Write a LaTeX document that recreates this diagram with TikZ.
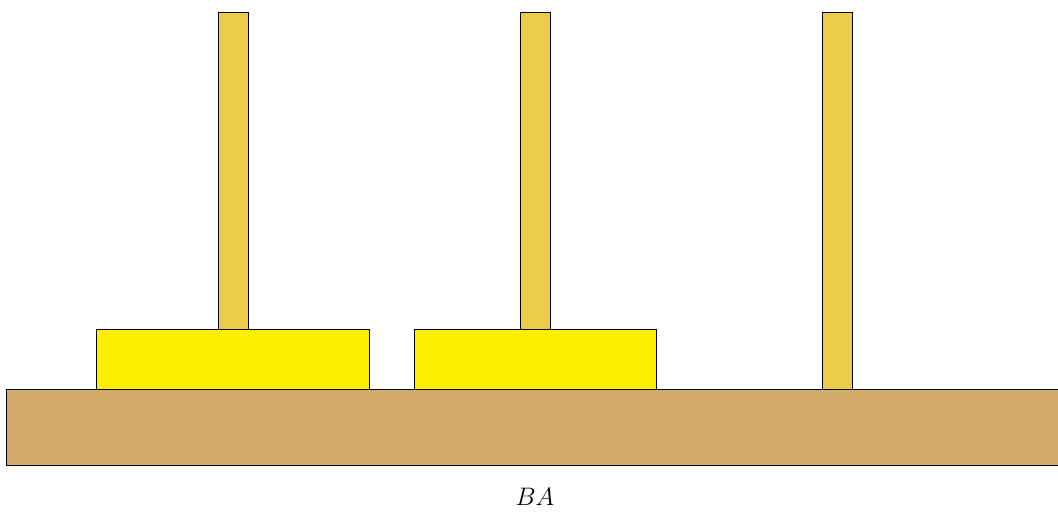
\documentclass[tikz,border=0pt]{standalone}
\usepackage{amsmath,amssymb}
\usepackage{tikz}
\usepackage{xcolor}
\definecolor{wood}{HTML}{D2AA69}
\definecolor{pegcol}{HTML}{E8CC4A}
\definecolor{diskcol}{HTML}{FEEE00}

\begin{document}
\begin{tikzpicture}[x=0.02cm,y=-0.02cm,
  peg/.style={draw=black,fill=pegcol},
  disk/.style={draw=black,fill=diskcol},
  board/.style={draw=black,fill=wood}]
\useasboundingbox (0,0) rectangle (1058,514);
% pegs
\draw[peg] (218,12) rectangle (248,389);
\draw[peg] (520,12) rectangle (550,389);
\draw[peg] (822,12) rectangle (852,389);
% base
\draw[board] (6,389) rectangle (1075,465);
% disks
\draw[disk] (96,329) rectangle (369,389);
\draw[disk] (414,329) rectangle (656,389);
% label
\node[font=\Large] (lbl) at (535,497) {$BA$};
\end{tikzpicture}
\end{document}
